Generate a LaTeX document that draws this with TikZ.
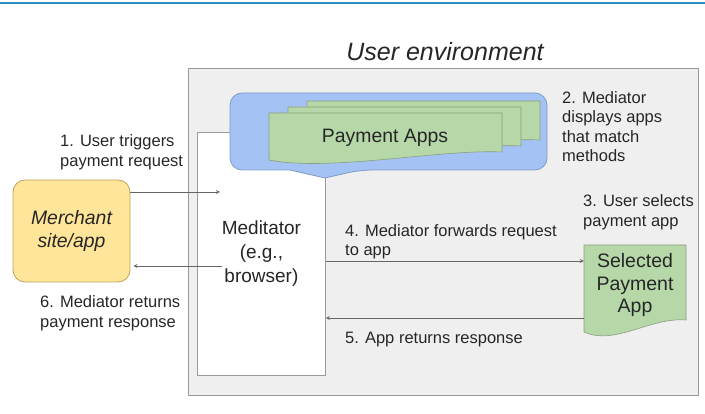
\documentclass[tikz,border=0pt]{standalone}
\usepackage{fontspec}
\setmainfont{Liberation Sans}
\usetikzlibrary{positioning}

\definecolor{topline}{HTML}{2A8DBF}
\definecolor{envgray}{HTML}{EFEFEF}
\definecolor{envedge}{HTML}{9A9A9A}
\definecolor{callblue}{HTML}{A4C2F4}
\definecolor{calledge}{HTML}{7F9CC4}
\definecolor{appgreen}{HTML}{B6D7A8}
\definecolor{docedge}{HTML}{8A9E80}
\definecolor{merchyellow}{HTML}{FFE599}
\definecolor{merchedge}{HTML}{B8A25E}

\begin{document}
\begin{tikzpicture}[x=1pt, y=-1pt, >=stealth,
  steplabel/.style={font=\fontsize{16.5}{19.5}\selectfont, align=left,
    text=black!85, inner sep=0pt, anchor=west},
  flow/.style={->, draw=black!60, line width=0.8pt},
  doc/.style={fill=appgreen, draw=docedge, line width=0.6pt}]
  \useasboundingbox (0,0) rectangle (705,414);
  % Top rule
  \draw[topline, line width=2pt] (0,3) -- (705,3);

  % ---- User environment ----
  \node[draw=envedge, fill=envgray, line width=1pt, inner sep=0pt,
    minimum width=510, minimum height=327, anchor=north west] (env) at (188,68) {};
  \node[font=\fontsize{25}{30}\selectfont\itshape, text=black!85, anchor=base]
    (envtitle) at (445,61) {User environment};

  % Mediator
  \node[draw=envedge, fill=white, line width=0.8pt, inner sep=0pt,
    minimum width=128, minimum height=243, anchor=north west,
    font=\fontsize{19}{24}\selectfont, align=center, text=black!85]
    (mediator) at (197,132) {Meditator\\(e.g.,\\browser)};

  % Payment apps callout
  \draw[fill=callblue, draw=calledge, line width=0.8pt, rounded corners=12pt]
    (230,93) -- (547,93) -- (547,170) -- (360,170) [sharp corners]
    -- (325,178) -- (290,170) [rounded corners=12pt] -- (230,170) -- cycle;
  \foreach \dx/\dy in {38/-12,19/-6,0/0}
    \draw[doc, shift={(\dx,\dy)}] (269,113) -- (502,113) -- (502,152)
      .. controls (440,149) and (330,172) .. (269,160) -- cycle;
  \node[font=\fontsize{19.4}{23}\selectfont, text=black!85] (apps) at (385,138) {Payment Apps};

  % Selected payment app
  \draw[doc] (584,245) -- (686,245) -- (686,320)
    .. controls (650,317) and (615,346) .. (584,332) -- cycle;
  \node[font=\fontsize{19.5}{22.5}\selectfont, align=center, text=black!85,
    inner sep=0pt, minimum width=102] (selapp) at (635,285) {Selected\\Payment\\App};

  % ---- Merchant ----
  \node[draw=merchedge, fill=merchyellow, line width=0.8pt, rounded corners=12pt,
    minimum width=117, minimum height=102, inner sep=0pt,
    font=\fontsize{19.4}{23}\selectfont\itshape, align=center, text=black!85]
    (merchant) at (71.5,231) {Merchant\\site/app};

  % ---- Flows ----
  \draw[flow] ([yshift=39pt]merchant.east)
    -- ([yshift=39pt, xshift=23pt]merchant.east -| mediator.west);
  \draw[flow] ([yshift=-35pt, xshift=25pt]merchant.east -| mediator.west)
    -- ([yshift=-35pt, xshift=3pt]merchant.east);
  \draw[flow] ([yshift=24pt]selapp.west -| mediator.east) -- ([yshift=24pt]selapp.west);
  \draw[flow] ([yshift=-33pt]selapp.west) -- ([yshift=-33pt]selapp.west -| mediator.east);

  % ---- Step labels ----
  \node[steplabel] (step1) at (60,152) {1. User triggers\\payment request};
  \node[steplabel] (step2) at (562,126.5) {2. Mediator\\displays apps\\that match\\methods};
  \node[steplabel] (step3) at (583,212) {3. User selects\\payment app};
  \node[steplabel] (step4) at (345,241.5) {4. Mediator forwards request\\to app};
  \node[steplabel] (step5) at (345,340) {5. App returns response};
  \node[steplabel] (step6) at (40,313) {6. Mediator returns\\payment response};
\end{tikzpicture}
\end{document}
